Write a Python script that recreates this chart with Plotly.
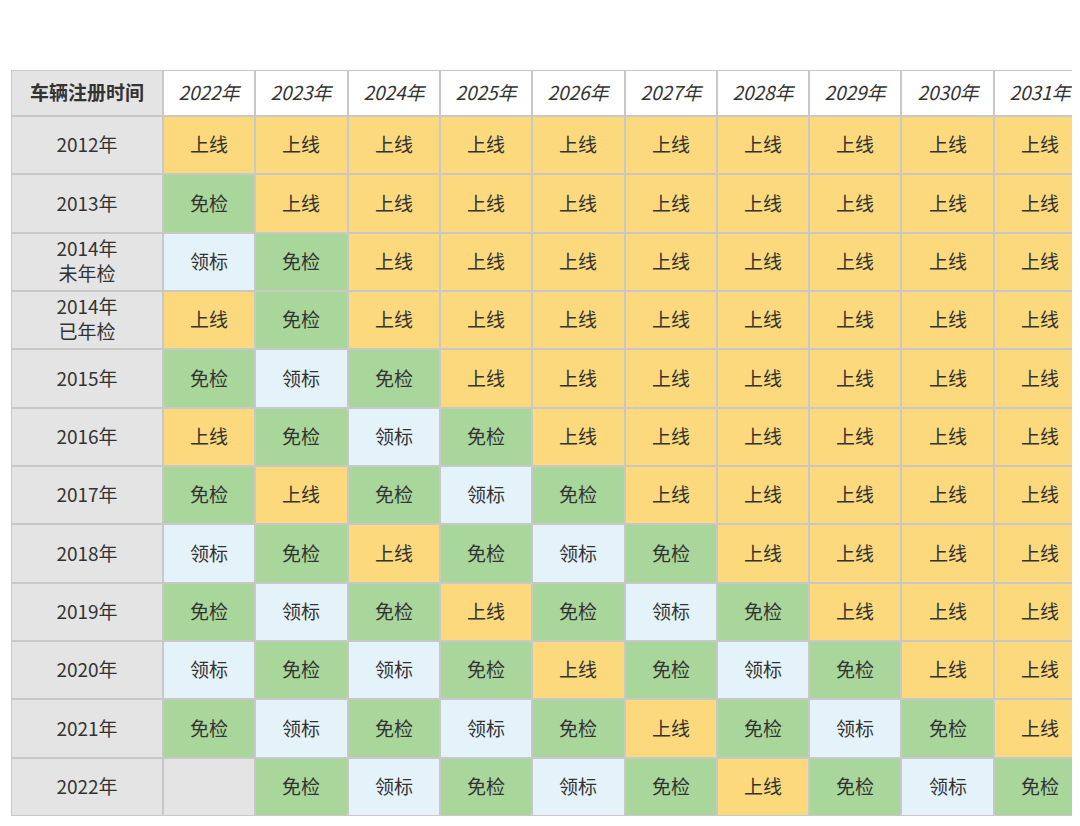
import plotly.graph_objects as go

years = ["2022年", "2023年", "2024年", "2025年", "2026年", "2027年", "2028年", "2029年", "2030年", "2031年"]
row_labels = ["2012年", "2013年", "2014年<br>未年检", "2014年<br>已年检", "2015年", "2016年",
              "2017年", "2018年", "2019年", "2020年", "2021年", "2022年"]

r2012 = ["上线"] * 10
r2013 = ["免检"] + ["上线"] * 9
r2014a = ["领标", "免检"] + ["上线"] * 8
r2014b = ["上线", "免检"] + ["上线"] * 8
r2015 = ["免检", "领标", "免检"] + ["上线"] * 7
r2016 = ["上线", "免检", "领标", "免检"] + ["上线"] * 6
r2017 = ["免检", "上线", "免检", "领标", "免检"] + ["上线"] * 5
r2018 = ["领标", "免检", "上线", "免检", "领标", "免检"] + ["上线"] * 4
r2019 = ["免检", "领标", "免检", "上线", "免检", "领标", "免检"] + ["上线"] * 3
r2020 = ["领标", "免检", "领标", "免检", "上线", "免检", "领标", "免检", "上线", "上线"]
r2021 = ["免检", "领标", "免检", "领标", "免检", "上线", "免检", "领标", "免检", "上线"]
r2022 = ["", "免检", "领标", "免检", "领标", "免检", "上线", "免检", "领标", "免检"]

rows = [r2012, r2013, r2014a, r2014b, r2015, r2016, r2017, r2018, r2019, r2020, r2021, r2022]

# codes: 0 label/gray, 1 上线, 2 免检, 3 领标, 4 header
codes = {"": 0, "上线": 1, "免检": 2, "领标": 3}
colorscale = [
    [0.0, "#E4E4E4"], [0.2, "#E4E4E4"],
    [0.2, "#FCD97C"], [0.4, "#FCD97C"],
    [0.4, "#A9D69B"], [0.6, "#A9D69B"],
    [0.6, "#E4F2F9"], [0.8, "#E4F2F9"],
    [0.8, "#FFFFFF"], [1.0, "#FFFFFF"],
]

z = [[0] + [4] * len(years)]
text = [["<b>车辆注册时间</b>"] + [f"<i>{y}</i>" for y in years]]
for label, r in zip(row_labels, rows):
    z.append([0] + [codes[v] for v in r])
    text.append([label] + r)

# cell edges (pixel-like widths): first column wider, header row shorter
x_edges = [0, 152]
for _ in years:
    x_edges.append(x_edges[-1] + 92.3)
y_edges = [0, 46]
for _ in rows:
    y_edges.append(y_edges[-1] + 58.3)

fig = go.Figure(go.Heatmap(
    x=x_edges, y=y_edges, z=z, text=text,
    texttemplate="%{text}",
    textfont=dict(family="Noto Sans CJK SC", size=19, color="#333333"),
    colorscale=colorscale, zmin=-0.5, zmax=4.5,
    showscale=False, xgap=2, ygap=2, hoverinfo="skip",
))

fig.update_xaxes(visible=False, range=[x_edges[0], x_edges[-1]])
fig.update_yaxes(visible=False, range=[y_edges[-1], y_edges[0]])
fig.update_layout(
    width=1080, height=826,
    margin=dict(l=3, r=2, t=62, b=18),
    paper_bgcolor="white", plot_bgcolor="#C8C8C8",
)

fig.write_html("out.html")
